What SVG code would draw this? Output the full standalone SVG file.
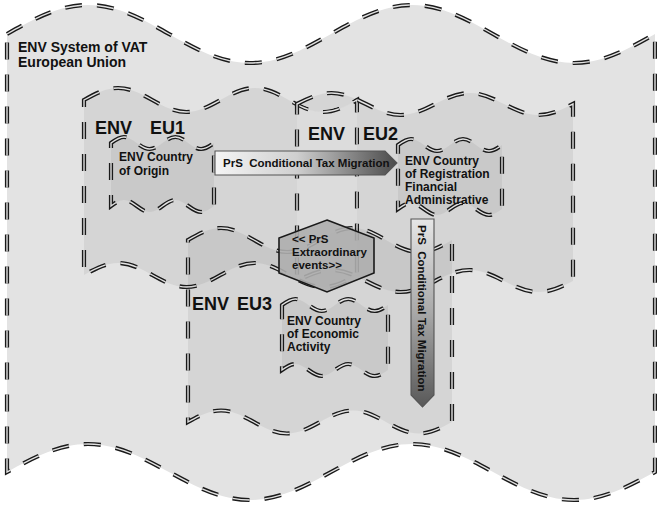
<svg xmlns="http://www.w3.org/2000/svg" width="657" height="507" viewBox="0 0 657 507">
<style>
.b1{fill:none;stroke:#1a1a1a;stroke-width:4.2;stroke-dasharray:17 15}
.b2{fill:none;stroke:#e2e2e2;stroke-width:1.4;stroke-dasharray:17 15}
text{font-family:"Liberation Sans",Arial,sans-serif;font-weight:bold;fill:#111}
.big{font-size:18px}
.t14{font-size:14px}
.t12{font-size:12px}
.t11{font-size:11.5px}
.hx{font-size:11.5px}
.box{fill:#000;fill-opacity:.055}
.arrow{stroke:#555;stroke-width:1.1}
</style>
<defs>
<path id="p-outer" d="M7,34 C35.35,18.05 59.65,5 88,5 C146.9,5 191.1,63 250,63 C308.9,63 353.1,5 412,5 C470.9,5 515.1,63 574,63 C602.35,63 626.65,49.95 655,34 L655,472 C626.65,487.4 602.35,500 574,500 C515.1,500 470.9,444 412,444 C353.1,444 308.9,500 250,500 C191.1,500 146.9,444 88,444 C59.65,444 35.35,456.6 7,472 Z"/>
<path id="p-eu1" d="M84,100 C95.94,93.4 106.18,88 118.13,88 C142.94,88 161.57,112 186.38,112 C211.19,112 229.82,88 254.63,88 C279.44,88 298.07,112 322.88,112 C334.82,112 345.06,106.6 357,100 L357,275 C345.06,281.6 334.82,287 322.88,287 C298.07,287 279.44,263 254.63,263 C229.82,263 211.19,287 186.38,287 C161.57,287 142.94,263 118.13,263 C106.18,263 95.94,268.4 84,275 Z"/>
<path id="p-eu2" d="M297,104 C309.08,97.95 319.43,93 331.5,93 C356.58,93 375.42,115 400.5,115 C425.58,115 444.42,93 469.5,93 C494.58,93 513.42,115 538.5,115 C550.58,115 560.93,110.05 573,104 L573,281 C560.93,287.05 550.58,292 538.5,292 C513.42,292 494.58,270 469.5,270 C444.42,270 425.58,292 400.5,292 C375.42,292 356.58,270 331.5,270 C319.43,270 309.08,274.95 297,281 Z"/>
<path id="p-eu3" d="M188,240 C199.55,233.4 209.45,228 221,228 C244.99,228 263.01,252 287,252 C310.99,252 329.01,228 353,228 C376.99,228 395.01,252 419,252 C430.55,252 440.45,246.6 452,240 L452,422 C440.45,428.33 430.55,433.5 419,433.5 C395.01,433.5 376.99,410.5 353,410.5 C329.01,410.5 310.99,433.5 287,433.5 C263.01,433.5 244.99,410.5 221,410.5 C209.45,410.5 199.55,415.68 188,422 Z"/>
<path id="p-origin" d="M111,143 C115.51,139.7 119.37,137 123.88,137 C133.24,137 140.27,149 149.63,149 C158.99,149 166.02,137 175.38,137 C184.74,137 191.77,149 201.13,149 C205.64,149 209.5,146.3 214,143 L214,206 C209.5,209.3 205.64,212 201.13,212 C191.77,212 184.74,200 175.38,200 C166.02,200 158.99,212 149.63,212 C140.27,212 133.24,200 123.88,200 C119.37,200 115.51,202.7 111,206 Z"/>
<path id="p-reg" d="M398,145 C402.55,141.7 406.45,139 411,139 C420.45,139 427.55,151 437,151 C446.45,151 453.55,139 463,139 C472.45,139 479.55,151 489,151 C493.55,151 497.45,148.3 502,145 L502,209 C497.45,212.3 493.55,215 489,215 C479.55,215 472.45,203 463,203 C453.55,203 446.45,215 437,215 C427.55,215 420.45,203 411,203 C406.45,203 402.55,205.7 398,209 Z"/>
<path id="p-eco" d="M282,305 C286.64,301.7 290.61,299 295.25,299 C304.88,299 312.12,311 321.75,311 C331.38,311 338.62,299 348.25,299 C357.88,299 365.12,311 374.75,311 C379.39,311 383.36,308.3 388,305 L388,370 C383.36,373.3 379.39,376 374.75,376 C365.12,376 357.88,364 348.25,364 C338.62,364 331.38,376 321.75,376 C312.12,376 304.88,364 295.25,364 C290.61,364 286.64,366.7 282,370 Z"/>
<clipPath id="clip-eu1"><use href="#p-eu1"/></clipPath>
<mask id="m-eu2" maskUnits="userSpaceOnUse" x="0" y="0" width="657" height="507">
<rect width="657" height="507" fill="#fff"/>
<use href="#p-eu1" fill="#000" stroke="#000" stroke-width="4.2" stroke-dasharray="17 15"/>
</mask>
<linearGradient id="gh" x1="0" y1="0" x2="1" y2="0">
<stop offset="0" stop-color="#f5f5f5"/><stop offset=".45" stop-color="#cfcfcf"/><stop offset=".8" stop-color="#7a7a7a"/><stop offset="1" stop-color="#4a4a4a"/>
</linearGradient>
<linearGradient id="gv" x1="0" y1="0" x2="0" y2="1">
<stop offset="0" stop-color="#e6e6e6"/><stop offset=".5" stop-color="#a8a8a8"/><stop offset="1" stop-color="#585858"/>
</linearGradient>
</defs>

<g id="env-system">
<use href="#p-outer" fill="#e3e3e3"/>
<use href="#p-outer" class="b1"/><use href="#p-outer" class="b2"/>
<text class="t14" x="18" y="52">ENV System of VAT</text>
<text class="t14" x="18" y="67">European Union</text>
</g>

<g id="env-eu1">
<use href="#p-eu1" fill="#d5d5d5"/>
<use href="#p-eu2" clip-path="url(#clip-eu1)" fill="#dcdcdc"/>
<use href="#p-eu1" class="b1"/><use href="#p-eu1" class="b2"/>
<text class="big" y="134"><tspan x="95">ENV</tspan><tspan x="150">EU1</tspan></text>
</g>

<g id="env-eu2">
<use href="#p-eu2" fill="#d5d5d5" mask="url(#m-eu2)"/>
<use href="#p-eu2" class="b1"/><use href="#p-eu2" class="b2"/>
<text class="big" y="140"><tspan x="308">ENV</tspan><tspan x="363">EU2</tspan></text>
</g>

<g id="env-eu3">
<use href="#p-eu3" fill="#000" fill-opacity="0.06"/>
<use href="#p-eu3" class="b1"/><use href="#p-eu3" class="b2"/>
<text class="big" y="310"><tspan x="192">ENV</tspan><tspan x="237">EU3</tspan></text>
</g>

<g id="country-origin">
<use href="#p-origin" class="box"/>
<use href="#p-origin" class="b1"/><use href="#p-origin" class="b2"/>
<text class="t12" x="119" y="161">ENV Country</text>
<text class="t12" x="119" y="175">of Origin</text>
</g>

<g id="country-registration">
<use href="#p-reg" class="box"/>
<use href="#p-reg" class="b1"/><use href="#p-reg" class="b2"/>
<text class="t12" x="405" y="165">ENV Country</text>
<text class="t12" x="405" y="178">of Registration</text>
<text class="t12" x="405" y="191">Financial</text>
<text class="t12" x="405" y="204">Administrative</text>
</g>

<g id="country-economic">
<use href="#p-eco" class="box"/>
<use href="#p-eco" class="b1"/><use href="#p-eco" class="b2"/>
<text class="t12" x="287" y="325">ENV Country</text>
<text class="t12" x="287" y="338">of Economic</text>
<text class="t12" x="287" y="351">Activity</text>
</g>

<g id="extraordinary-events">
<polygon points="327,220 374,238 374,273 327,292 279,273 279,238" fill="#aeaeae" fill-opacity="0.9" stroke="#1a1a1a" stroke-width="1.6"/>
<text class="hx" x="292" y="243">&lt;&lt; PrS</text>
<text class="hx" x="292" y="256">Extraordinary</text>
<text class="hx" x="292" y="269">events&gt;&gt;</text>
</g>

<g id="connectors">
<g id="migration-horizontal">
<polygon class="arrow" points="215,151 385,151 397,163 385,175 215,175" fill="url(#gh)"/>
<text class="t11" x="223" y="167" xml:space="preserve">PrS  Conditional Tax Migration</text>
</g>
<g id="migration-vertical">
<polygon class="arrow" points="411,219 434,219 434,395 422.5,407 411,395" fill="url(#gv)"/>
<text class="t11" transform="translate(418,225) rotate(90)" xml:space="preserve">PrS  Conditional Tax Migration</text>
</g>
</g>
</svg>
